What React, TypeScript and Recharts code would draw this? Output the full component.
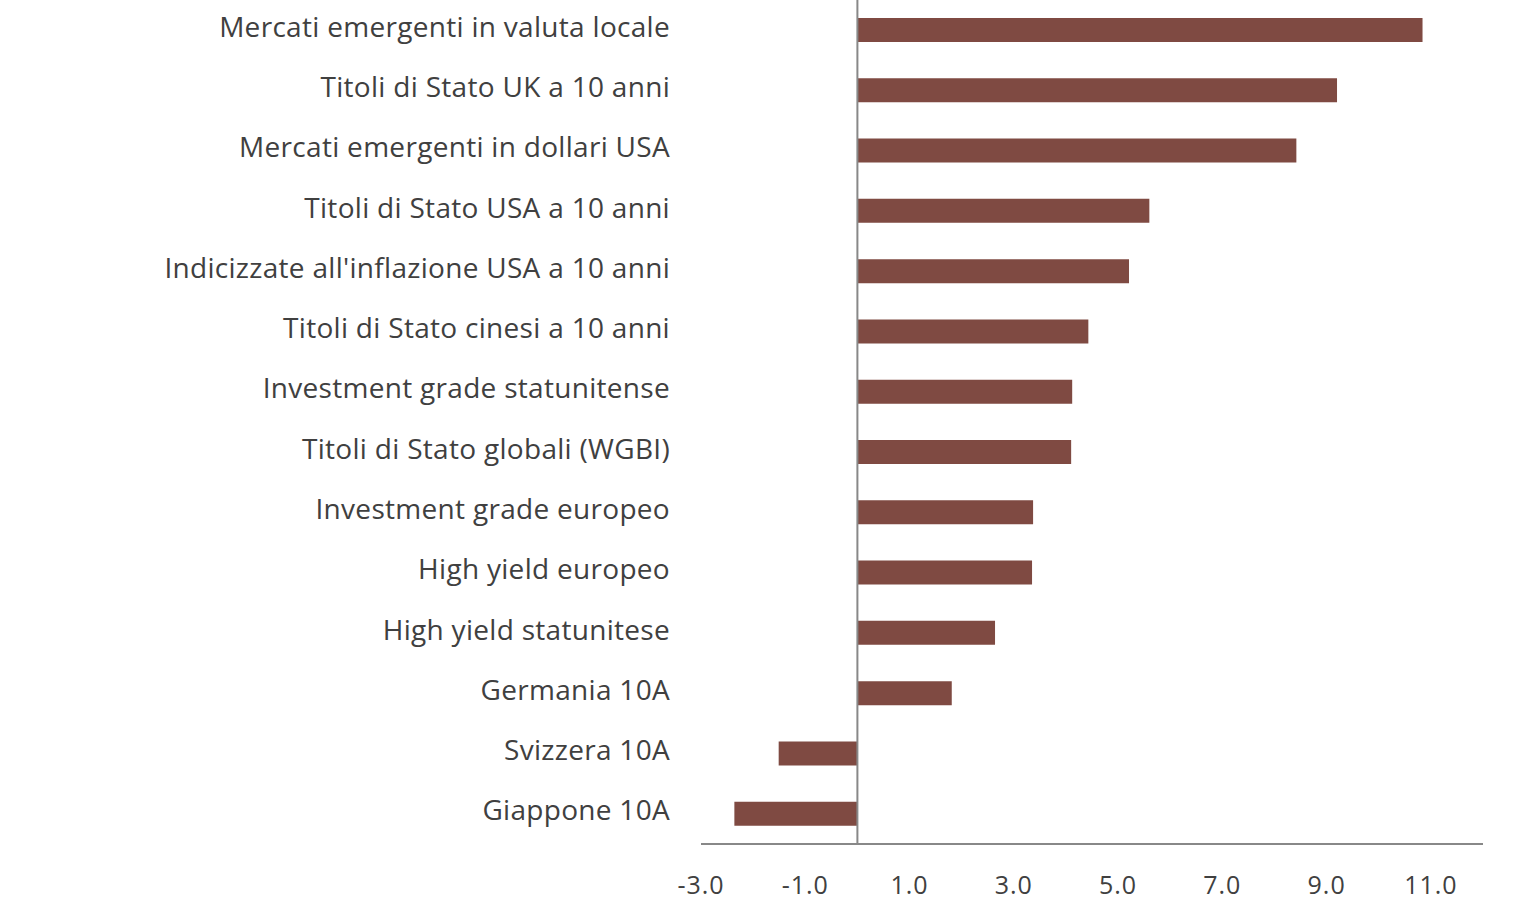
import { BarChart, Bar, XAxis, YAxis, ReferenceLine } from "recharts";

const categories = [
  "Mercati emergenti in valuta locale",
  "Titoli di Stato UK a 10 anni",
  "Mercati emergenti in dollari USA",
  "Titoli di Stato USA a 10 anni",
  "Indicizzate all'inflazione USA a 10 anni",
  "Titoli di Stato cinesi a 10 anni",
  "Investment grade statunitense",
  "Titoli di Stato globali (WGBI)",
  "Investment grade europeo",
  "High yield europeo",
  "High yield statunitese",
  "Germania 10A",
  "Svizzera 10A",
  "Giappone 10A",
];

const values = [10.84, 9.2, 8.42, 5.6, 5.21, 4.43, 4.12, 4.1, 3.37, 3.35, 2.64, 1.81, -1.51, -2.36];

const xTicks = [-3, -1, 1, 3, 5, 7, 9, 11];

const data = categories.map((name, i) => ({ name, value: values[i] }));

const font = "'Open Sans', sans-serif";

// category labels sit a touch above the bar centre in the original
const CategoryTick = (props: any) => {
  const { x, y, payload } = props;
  return (
    <text
      x={x}
      y={y}
      dy={6.5}
      textAnchor="end"
      fill="#404040"
      fontSize={28}
      fontFamily={font}
      letterSpacing={0.3}
    >
      {payload.value}
    </text>
  );
};

// zero line runs right up to the top edge
const ZeroLine = (props: any) => {
  const { x1, x2, y1, y2 } = props;
  return <line x1={x1} x2={x2} y1={0} y2={Math.max(y1, y2)} stroke="#888888" strokeWidth={2} />;
};

export default function App() {
  return (
    <div>
      <style>{"body { margin: 0; }"}</style>
      <BarChart
        width={1536}
        height={910}
        data={data}
        layout="vertical"
        margin={{ top: 0, right: 53, left: 0, bottom: 0 }}
        barCategoryGap={0}
      >
        <XAxis
          type="number"
          domain={[-3, 12]}
          ticks={xTicks}
          interval={0}
          tickFormatter={(v: number) => v.toFixed(1)}
          height={66}
          axisLine={{ stroke: "#888888", strokeWidth: 2 }}
          tickLine={false}
          tickSize={0}
          tickMargin={32}
          tick={{ fill: "#404040", fontSize: 25, fontFamily: font, letterSpacing: 1 }}
        />
        <YAxis
          type="category"
          dataKey="name"
          width={701}
          axisLine={false}
          tickLine={false}
          tickSize={0}
          tickMargin={31}
          interval={0}
          tick={<CategoryTick />}
        />
        <Bar dataKey="value" fill="#7F4A42" barSize={24} isAnimationActive={false} />
        <ReferenceLine x={0} ifOverflow="visible" shape={<ZeroLine />} />
      </BarChart>
    </div>
  );
}
